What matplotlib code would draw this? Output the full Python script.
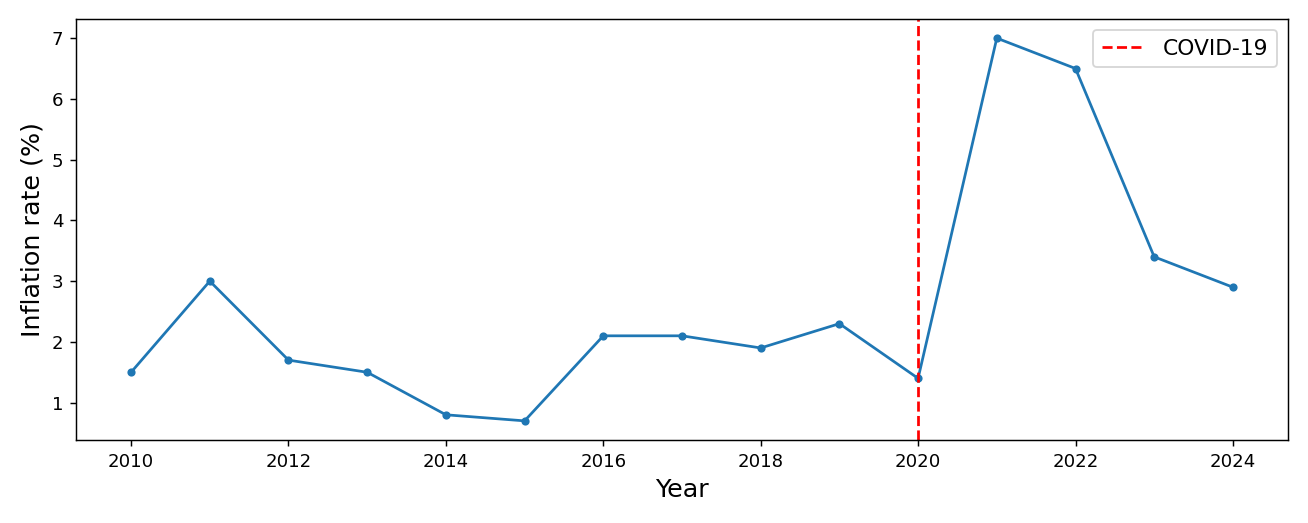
import matplotlib
matplotlib.use("Agg")
import matplotlib.pyplot as plt

years = [2010, 2011, 2012, 2013, 2014, 2015, 2016, 2017, 2018, 2019, 2020, 2021, 2022, 2023, 2024]
inflation = [1.5, 3.0, 1.7, 1.5, 0.8, 0.7, 2.1, 2.1, 1.9, 2.3, 1.4, 7.0, 6.5, 3.4, 2.9]
covid_year = 2020

DPI = 130.8
fig = plt.figure(figsize=(1308/DPI, 523/DPI), dpi=DPI)
ax = fig.add_axes([76/1308, 1-440/523, (1288-76)/1308, (440-19)/523])
ax.plot(years, inflation, marker='o', markersize=3.5, color='#1f77b4', linewidth=1.5)
ax.axvline(covid_year, color='red', linestyle='--', linewidth=1.5, label='COVID-19')
ax.set_xlabel('Year', fontsize=14)
ax.set_ylabel('Inflation rate (%)', fontsize=14)
ax.set_xticks(range(2010, 2025, 2))
ax.legend(loc='upper right', fontsize=12)
fig.savefig('out.png', dpi=DPI)
